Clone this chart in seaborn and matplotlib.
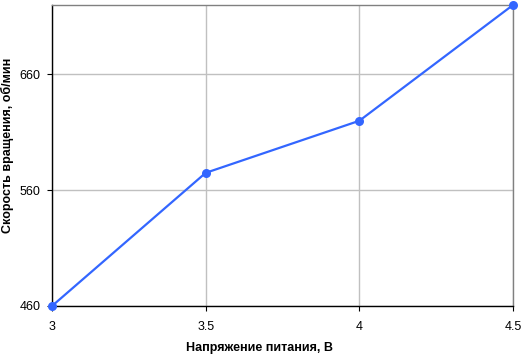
import matplotlib
matplotlib.use("Agg")
import matplotlib.pyplot as plt
import seaborn as sns
import pandas as pd

voltage = [3, 3.5, 4, 4.5]
speed = [460, 575, 620, 720]
x_ticks = [3, 3.5, 4, 4.5]
x_tick_labels = ["3", "3.5", "4", "4.5"]
y_ticks = [460, 560, 660]
x_label = "Напряжение питания, В"
y_label = "Скорость вращения, об/мин"

sns.set_theme(style="ticks")
plt.rcParams['font.family'] = ['Liberation Sans', 'DejaVu Sans']

df = pd.DataFrame({"v": voltage, "s": speed})

fig = plt.figure(figsize=(5.21, 3.56), dpi=100)
ax = fig.add_axes([52/521, 50/356, 461/521, 301/356])

sns.lineplot(data=df, x="v", y="s", ax=ax, color="#3366FF", linewidth=1.6,
             marker="o", markersize=6.5, markeredgewidth=0, clip_on=False, zorder=5)

ax.set_xlim(3, 4.5)
ax.set_ylim(460, 720)
ax.set_xticks(x_ticks)
ax.set_xticklabels(x_tick_labels)
ax.set_yticks(y_ticks)
ax.grid(True, color="#C0C0C0", linewidth=1)
ax.set_axisbelow(True)

for s in ["left", "bottom"]:
    ax.spines[s].set_color("black")
    ax.spines[s].set_linewidth(1)
for s in ["top", "right"]:
    ax.spines[s].set_visible(True)
    ax.spines[s].set_color("#808080")
    ax.spines[s].set_linewidth(1)

ax.tick_params(axis="both", which="major", direction="out", length=3.5, width=0.8,
               color="black", labelsize=9, labelcolor="black",
               left=True, bottom=True, top=False, right=False)
ax.tick_params(axis="x", pad=7)
ax.tick_params(axis="y", pad=5)
ax.set_xlabel(x_label, fontsize=9, fontweight="bold", color="black")
ax.set_ylabel(y_label, fontsize=9, fontweight="bold", color="black")
ax.xaxis.set_label_coords(0.451, -36/301)
ax.yaxis.set_label_coords(-38/461, 0.532)

fig.savefig("out.png", dpi=100)
